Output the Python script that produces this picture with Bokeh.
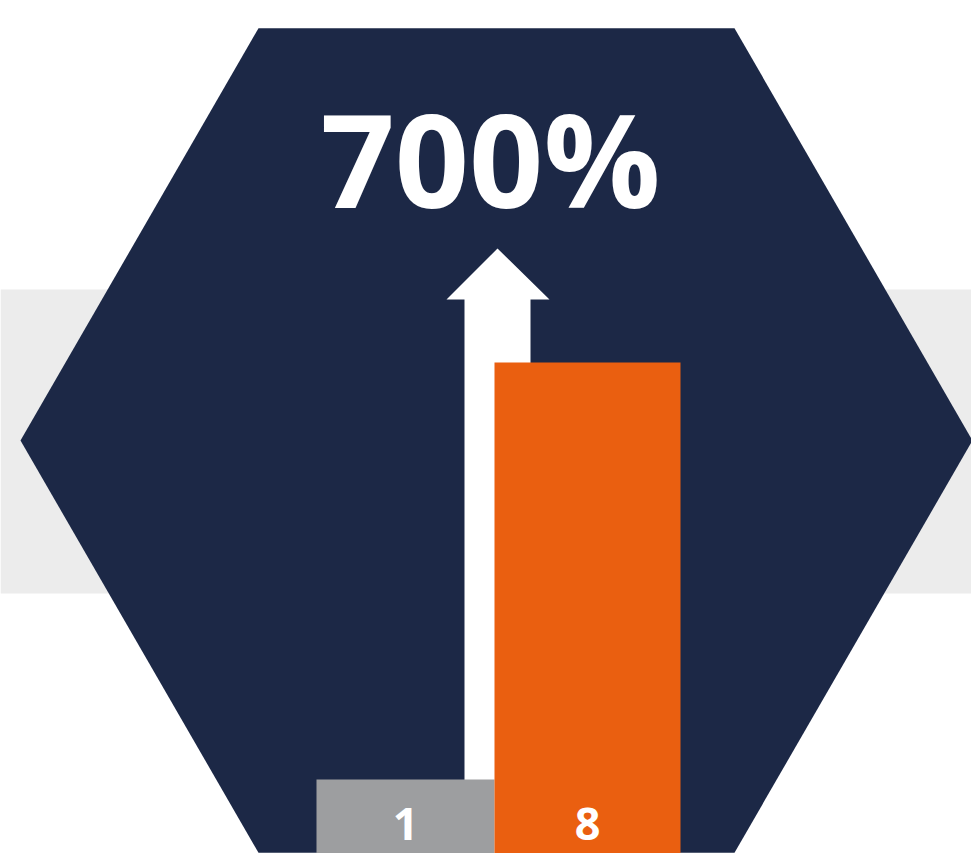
from bokeh.plotting import figure
from bokeh.models import Range1d
from bokeh.core.properties import value
from bokeh.embed import file_html
from bokeh.resources import INLINE
import numpy as np

# data
categories = ["Before", "After"]
counts = [1, 8]
change_label = "700%"

W, H = 971, 853
NAVY = "#1C2846"
BAND = "#ECECEC"
BAR_COLORS = ["#9D9EA0", "#EA5F10"]
FONT = value("Open Sans")

p = figure(width=W, height=H, output_backend="svg", toolbar_location=None,
           x_range=Range1d(0, W), y_range=Range1d(0, H),
           min_border=0, background_fill_color="white",
           border_fill_color="white", outline_line_color=None)
p.axis.visible = False
p.grid.visible = False

# count scale used for the bars: value 0 sits 14.4px above the bottom edge
px_per_unit = (779 - 362) / (counts[1] - counts[0])
c0 = -14.4 / px_per_unit
p.extra_y_ranges = {"count": Range1d(c0, c0 + H / px_per_unit)}

# light band behind the hexagon
p.quad(left=0, right=W, bottom=H - 593, top=H - 289, fill_color=BAND, line_color=None)

# flat-topped hexagon
cx, cy, R = 496, H - 440, 476
ang = np.radians(np.arange(0, 360, 60))
p.patch(cx + R * np.cos(ang), cy + R * np.sin(ang), fill_color=NAVY, line_color=None)

# upward arrow
ax = [464, 464, 446, 497, 549, 530, 530]
ay = [0, H - 299, H - 299, H - 248, H - 299, H - 299, 0]
p.patch(ax, ay, fill_color="white", line_color=None)

# bars
centers = [405, 587]
widths = [178, 186]
p.vbar(x=centers, width=widths, bottom=c0 - 1, top=counts, fill_color=BAR_COLORS,
       line_color=None, y_range_name="count")

# value labels
p.text(x=centers, y=[H - 823, H - 823], text=[str(c) for c in counts], text_color="white",
       text_font=FONT, text_font_style="bold", text_font_size="45px",
       text_align="center", text_baseline="middle")

# headline figure
p.text(x=[490], y=[H - 157], text=[change_label], text_color="white",
       text_font=FONT, text_font_style="bold", text_font_size="130px",
       text_align="center", text_baseline="middle")

open("out.html", "w").write(file_html(p, INLINE))
